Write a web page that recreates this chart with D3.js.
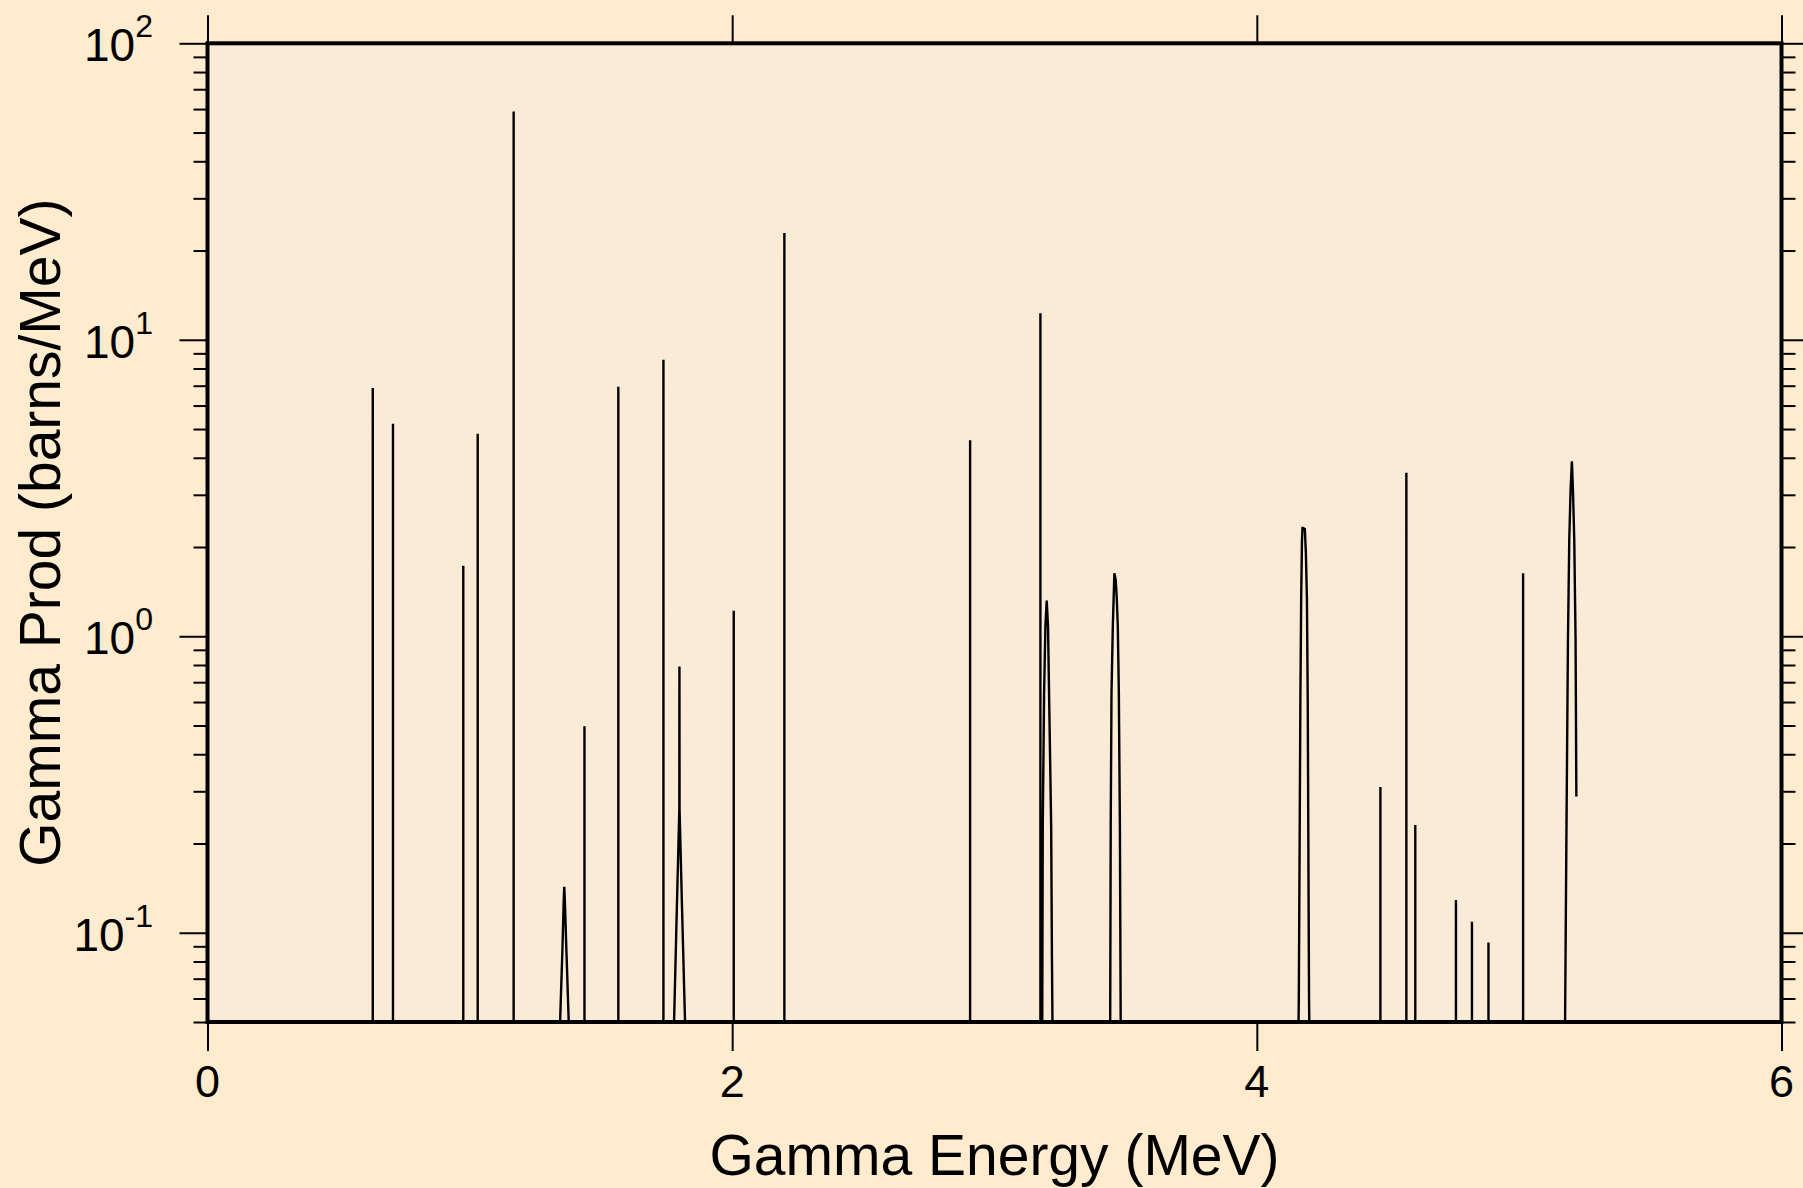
<!DOCTYPE html>
<html>
<head>
    <meta charset="utf-8">
    <title>Gamma Prod</title>
    <script src="https://cdnjs.cloudflare.com/ajax/libs/d3/7.8.5/d3.min.js"></script>
    <style>
        html, body { margin: 0; padding: 0; background: #FFEBCD; }
        svg { display: block; font-family: "Liberation Sans", Arial, sans-serif; }
    </style>
</head>
<body>
<script>
    // narrow lines: energy (MeV) and peak height (barns/MeV)
    const lineEnergy = [0.630, 0.707, 0.975, 1.030, 1.167, 1.437, 1.566, 1.738, 2.006, 2.199,
        2.907, 3.175, 4.471, 4.570, 4.604, 4.759, 4.820, 4.883, 5.015];
    const lineHeight = [6.88, 5.21, 1.73, 4.82, 58.9, 0.497, 6.95, 8.57, 1.22, 22.9,
        4.58, 12.3, 0.310, 3.56, 0.231, 0.129, 0.109, 0.0927, 1.63];

    // broadened peaks, profile points
    const broadEnergy = [
        [1.344, 1.353, 1.358, 1.360, 1.362, 1.368, 1.377],
        [1.7785, 1.789, 1.7985, 1.799, 1.7995, 1.809, 1.8204],
        [3.182, 3.184, 3.189, 3.194, 3.199, 3.204, 3.208, 3.216, 3.219, 3.221],
        [3.441, 3.443, 3.446, 3.451, 3.457, 3.462, 3.466, 3.470, 3.474, 3.478, 3.481],
        [4.159, 4.160, 4.166, 4.169, 4.172, 4.174, 4.176, 4.183, 4.187, 4.191, 4.194, 4.199, 4.200],
        [5.175, 5.180, 5.186, 5.191, 5.196, 5.201, 5.205, 5.210, 5.215, 5.218]
    ];
    const broadValue = [
        [0.05, 0.088, 0.13, 0.143, 0.13, 0.088, 0.05],
        [0.05, 0.12, 0.26, 0.79, 0.26, 0.12, 0.05],
        [0.05, 0.229, 0.644, 1.08, 1.32, 1.08, 0.644, 0.229, 0.0813, 0.05],
        [0.05, 0.229, 0.644, 1.08, 1.63, 1.55, 1.35, 1.08, 0.644, 0.229, 0.05],
        [0.05, 0.0597, 0.612, 1.33, 2.09, 2.32, 2.32, 2.30, 1.9, 1.33, 0.612, 0.0597, 0.05],
        [0.05, 0.2065, 0.975, 2.12, 3.12, 3.89, 3.12, 2.12, 0.975, 0.288]
    ];

    const baseValue = 0.05;
    const xTicks = [0, 2, 4, 6];
    const yExponents = [-1, 0, 1, 2];

    const W = 1803, H = 1188;
    const pLeft = 207.5, pRight = 1781.5, pTop = 43.3, pBottom = 1022;

    const x = d3.scaleLinear().domain([0, 6]).range([pLeft, pRight]);
    const y = d3.scaleLog().domain([0.05, 100]).range([pBottom, pTop]);

    // build the spectrum as one polyline, sorted by energy
    let groups = lineEnergy.map((e, i) => [[e, baseValue], [e, lineHeight[i]], [e, baseValue]]);
    broadEnergy.forEach((es, k) => groups.push(es.map((e, i) => [e, broadValue[k][i]])));
    groups.sort((a, b) => a[0][0] - b[0][0]);
    const spectrum = [[0, baseValue]].concat(...groups);

    const svg = d3.select('body').append('svg')
        .attr('width', W)
        .attr('height', H);

    svg.append('rect')
        .attr('x', pLeft).attr('y', pTop)
        .attr('width', pRight - pLeft).attr('height', pBottom - pTop)
        .attr('fill', '#FAEBD7');

    svg.append('clipPath').attr('id', 'plot')
        .append('rect')
        .attr('x', pLeft).attr('y', pTop)
        .attr('width', pRight - pLeft).attr('height', pBottom - pTop);

    const lineGen = d3.line()
        .x(d => x(d[0]))
        .y(d => y(d[1]));

    svg.append('path')
        .datum(spectrum)
        .attr('clip-path', 'url(#plot)')
        .attr('d', lineGen)
        .attr('fill', 'none')
        .attr('stroke', 'black')
        .attr('stroke-width', 2.4);

    // y tick positions
    const yMajor = yExponents.map(p => Math.pow(10, p));
    const yMinor = [];
    [-2, -1, 0, 1].forEach(p => {
        for (let m = 2; m <= 9; m++) {
            const v = m * Math.pow(10, p);
            if (v >= 0.05 && v <= 100) yMinor.push(v);
        }
    });

    function styleAxis(g) {
        g.select('.domain').remove();
        g.selectAll('.tick line').attr('stroke', 'black').attr('stroke-width', 2);
        g.selectAll('.tick text').remove();
    }

    svg.append('g').attr('transform', `translate(${pLeft},0)`)
        .call(d3.axisLeft(y).tickValues(yMajor).tickSize(28)).call(styleAxis);
    svg.append('g').attr('transform', `translate(${pLeft},0)`)
        .call(d3.axisLeft(y).tickValues(yMinor).tickSize(14)).call(styleAxis);
    svg.append('g').attr('transform', `translate(${pRight},0)`)
        .call(d3.axisRight(y).tickValues(yMajor).tickSize(28)).call(styleAxis);
    svg.append('g').attr('transform', `translate(${pRight},0)`)
        .call(d3.axisRight(y).tickValues(yMinor).tickSize(14)).call(styleAxis);

    svg.append('g').attr('transform', `translate(0,${pBottom})`)
        .call(d3.axisBottom(x).tickValues(xTicks).tickSize(29)).call(styleAxis);
    svg.append('g').attr('transform', `translate(0,${pTop})`)
        .call(d3.axisTop(x).tickValues(xTicks).tickSize(28)).call(styleAxis);

    // x tick labels
    svg.append('g').selectAll('text')
        .data(xTicks).enter()
        .append('text')
        .attr('x', d => x(d))
        .attr('y', pBottom + 75)
        .attr('text-anchor', 'middle')
        .attr('font-size', 45)
        .text(d => d);

    // y tick labels 10^n
    const yl = svg.append('g').selectAll('text')
        .data(yExponents).enter()
        .append('text')
        .attr('x', 153)
        .attr('y', d => y(Math.pow(10, d)) + 18)
        .attr('text-anchor', 'end')
        .attr('font-size', 46);
    yl.append('tspan').text('10');
    yl.append('tspan')
        .attr('dy', -24)
        .attr('font-size', 32)
        .text(d => d);

    // frame
    svg.append('rect')
        .attr('x', pLeft).attr('y', pTop)
        .attr('width', pRight - pLeft).attr('height', pBottom - pTop)
        .attr('fill', 'none')
        .attr('stroke', 'black')
        .attr('stroke-width', 4);

    // axis titles
    svg.append('text')
        .attr('x', (pLeft + pRight) / 2)
        .attr('y', 1175)
        .attr('text-anchor', 'middle')
        .attr('font-size', 57)
        .text('Gamma Energy (MeV)');

    svg.append('text')
        .attr('transform', `translate(60,${(pTop + pBottom) / 2}) rotate(-90)`)
        .attr('text-anchor', 'middle')
        .attr('font-size', 57)
        .text('Gamma Prod (barns/MeV)');
</script>
</body>
</html>
